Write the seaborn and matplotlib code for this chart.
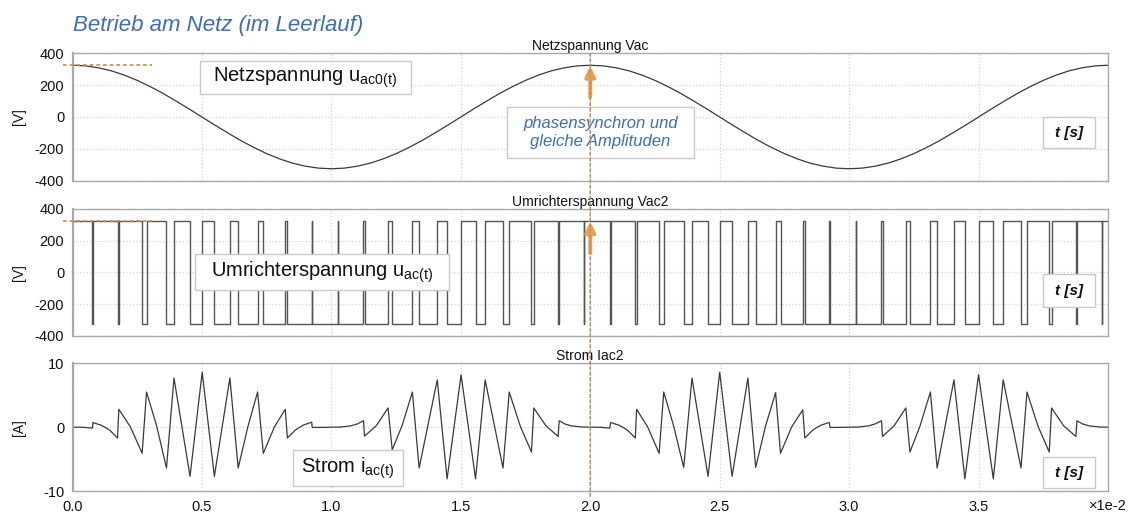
import numpy as np
import pandas as pd
import matplotlib
matplotlib.use("Agg")
import matplotlib.pyplot as plt
import seaborn as sns
from matplotlib.patches import Rectangle, ConnectionPatch

# ---- data (time axis in units of 1e-2 s) ----
grid_t = np.linspace(0.0, 4.0, 81)
grid_u = [325, 321, 309, 290, 263, 230, 191, 148, 100, 51,
          0, -51, -100, -148, -191, -230, -263, -290, -309, -321,
          -325, -321, -309, -290, -263, -230, -191, -148, -100, -51,
          0, 51, 100, 148, 191, 230, 263, 290, 309, 321,
          325, 321, 309, 290, 263, 230, 191, 148, 100, 51,
          0, -51, -100, -148, -191, -230, -263, -290, -309, -321,
          -325, -321, -309, -290, -263, -230, -191, -148, -100, -51,
          0, 51, 100, 148, 191, 230, 263, 290, 309, 321,
          325]

dc_link = 325
# switching instants of the converter bridge (starts in the upper state)
sw_t = [0.077, 0.079, 0.174, 0.179, 0.269, 0.286, 0.363, 0.392, 0.454, 0.501,
        0.548, 0.608, 0.640, 0.715, 0.737, 0.822, 0.830, 0.924, 0.926, 1.025,
        1.027, 1.124, 1.128, 1.219, 1.235, 1.313, 1.339, 1.409, 1.447, 1.501,
        1.557, 1.594, 1.663, 1.687, 1.773, 1.782, 1.876, 1.880, 1.975, 1.977,
        2.075, 2.079, 2.174, 2.179, 2.266, 2.284, 2.361, 2.393, 2.455, 2.500,
        2.548, 2.609, 2.639, 2.716, 2.735, 2.821, 2.829, 2.923, 2.927, 3.025,
        3.027, 3.125, 3.129, 3.219, 3.235, 3.314, 3.340, 3.405, 3.447, 3.500,
        3.557, 3.595, 3.664, 3.687, 3.773, 3.782, 3.876, 3.880, 3.975, 3.977]

cur_t = [0.000, 0.040, 0.077, 0.079, 0.111, 0.127, 0.145, 0.174, 0.179, 0.224,
         0.269, 0.286, 0.325, 0.363, 0.392, 0.454, 0.501, 0.548, 0.608, 0.640,
         0.678, 0.715, 0.737, 0.780, 0.822, 0.830, 0.860, 0.877, 0.892, 0.924,
         0.926, 0.975, 1.025, 1.027, 1.075, 1.100, 1.124, 1.128, 1.174, 1.219,
         1.235, 1.274, 1.313, 1.339, 1.409, 1.447, 1.501, 1.557, 1.594, 1.663,
         1.687, 1.730, 1.773, 1.782, 1.829, 1.876, 1.880, 1.902, 1.927, 1.975,
         1.977, 2.040, 2.075, 2.079, 2.111, 2.127, 2.145, 2.174, 2.179, 2.222,
         2.266, 2.284, 2.322, 2.361, 2.393, 2.455, 2.500, 2.548, 2.609, 2.639,
         2.677, 2.716, 2.735, 2.778, 2.821, 2.829, 2.859, 2.876, 2.891, 2.923,
         2.927, 2.975, 3.025, 3.027, 3.075, 3.100, 3.125, 3.129, 3.174, 3.219,
         3.235, 3.274, 3.314, 3.340, 3.405, 3.447, 3.500, 3.557, 3.595, 3.664,
         3.687, 3.730, 3.773, 3.782, 3.829, 3.876, 3.880, 3.902, 3.927, 3.975,
         3.977, 4.000]
cur_a = [0.00, -0.02, -0.15, 0.73, 0.30, -0.05, -0.52, -1.70, 2.80, 0.02,
         -4.10, 5.50, 0.20, -6.40, 7.70, -7.70, 8.60, -7.70, 7.70, -6.40,
         0.15, 5.50, -4.10, 0.04, 2.80, -1.70, -0.48, -0.03, 0.33, 0.78,
         -0.05, -0.03, 0.02, -0.02, 0.20, 0.50, 1.00, -1.40, 0.25, 3.00,
         -3.55, 0.34, 5.50, -6.40, 7.40, -8.10, 8.20, -8.10, 7.40, -6.40,
         5.50, 0.12, -3.90, 3.00, 0.20, -1.46, 1.00, 0.50, 0.20, 0.00,
         0.02, -0.02, -0.15, 0.73, 0.30, -0.05, -0.52, -1.70, 2.80, 0.02,
         -4.10, 5.50, 0.20, -6.30, 7.70, -7.70, 8.60, -7.70, 7.70, -6.30,
         0.15, 5.40, -4.10, 0.04, 2.70, -1.70, -0.48, -0.03, 0.30, 0.73,
         -0.05, -0.03, 0.02, -0.02, 0.20, 0.50, 1.00, -1.46, 0.22, 3.00,
         -3.90, 0.20, 5.50, -6.40, 7.40, -8.10, 8.20, -8.10, 7.40, -6.40,
         5.50, 0.12, -3.90, 3.00, 0.20, -1.46, 1.00, 0.50, 0.20, 0.00,
         0.02, 0.00]

sync_t = 2.0
x_ticks = [0.0, 0.5, 1.0, 1.5, 2.0, 2.5, 3.0, 3.5]
u_ticks = [-400, -200, 0, 200, 400]
i_ticks = [-10, 0, 10]

# ---- style ----
sns.set_theme(style="white")
plt.rcParams["font.family"] = ["Liberation Sans", "DejaVu Sans"]
plt.rcParams["axes.unicode_minus"] = False
plt.rcParams["mathtext.fontset"] = "custom"
plt.rcParams["mathtext.rm"] = "Liberation Sans"

W, H = 1129, 514
fig = plt.figure(figsize=(W / 100, H / 100), dpi=100)


def px_rect(x0, x1, y0, y1):
    return [x0 / W, 1 - y1 / H, (x1 - x0) / W, (y1 - y0) / H]


ax1 = fig.add_axes(px_rect(72.5, 1108, 53.3, 180.7))
ax2 = fig.add_axes(px_rect(72.5, 1108, 209, 335.7))
ax3 = fig.add_axes(px_rect(72.5, 1108, 363.3, 491))

spine_c = "#a9a9a9"
grid_c = "#d2d2d2"
line_c = "#3a3a3a"

# grid voltage
sns.lineplot(x=grid_t, y=grid_u, ax=ax1, color=line_c, lw=0.9,
             estimator=None, sort=False)

# converter voltage as a two-level step signal
step_t = np.concatenate([[0.0], sw_t, [4.0]])
step_u = dc_link * (-1.0) ** np.arange(len(sw_t) + 1)
step_u = np.append(step_u, step_u[-1])
sns.lineplot(x=step_t, y=step_u, ax=ax2, color="#555555", lw=1.0,
             drawstyle="steps-post", estimator=None, sort=False)

# line current
sns.lineplot(x=cur_t, y=cur_a, ax=ax3, color=line_c, lw=0.9,
             estimator=None, sort=False)

titles = ["Netzspannung Vac", "Umrichterspannung Vac2", "Strom Iac2"]
ylabels = ["[V]", "[V]", "[A]"]
for ax, ttl, yl in zip([ax1, ax2, ax3], titles, ylabels):
    ax.set_xlim(0, 4)
    ax.set_xticks(x_ticks)
    ax.set_axisbelow(True)
    ax.grid(True, ls=":", color=grid_c, lw=0.9)
    ax.set_title(ttl, fontsize=10, pad=2.5, color="#111111")
    ax.set_ylabel(yl, fontsize=10, color="#111111")
    ax.yaxis.set_label_coords(-0.045, 0.5)
    ax.set_xlabel("")
    for s in ["top", "right", "bottom"]:
        ax.spines[s].set_color(spine_c)
        ax.spines[s].set_linewidth(1.0)
    ax.spines["left"].set_color(spine_c)
    ax.spines["left"].set_linewidth(1.6)
    ax.tick_params(axis="y", length=4, width=1, color=spine_c,
                   labelsize=10.5, pad=2, labelcolor="#111111")

for ax in (ax1, ax2):
    ax.set_ylim(-400, 400)
    ax.set_yticks(u_ticks)
    ax.tick_params(axis="x", length=0, labelbottom=False)

ax3.set_ylim(-10, 10)
ax3.set_yticks(i_ticks)
ax3.tick_params(axis="x", length=0, labelsize=10.5, pad=6.5,
                labelcolor="#111111")
ax3.set_xticklabels([f"{v:.1f}" for v in x_ticks])
fig.text(1127 / W, 1 - 506 / H, "\u00d71e-2", ha="right", va="center",
         fontsize=10.5, color="#111111")

# amplitude markers
amp_c = "#c48a4f"
for ax in (ax1, ax2):
    ax.plot([-0.037, 0.307], [dc_link, dc_link], ls=(0, (2.2, 1.8)),
            color=amp_c, lw=1.2, clip_on=False, zorder=4)

# synchronisation marker across all panels
con = ConnectionPatch(xyA=(sync_t, 400), coordsA=ax1.transData,
                      xyB=(sync_t, -10.9), coordsB=ax3.transData,
                      ls=(0, (2.0, 1.6)), color="#bf8e62", lw=1.1, zorder=20)
fig.add_artist(con)

arrow_c = "#eb9f4e"
for ax, y0 in ((ax1, 127), (ax2, 122)):
    ax.annotate("", xy=(sync_t, 320), xytext=(sync_t, y0),
                arrowprops=dict(arrowstyle="-|>", color=arrow_c, lw=2.8,
                                mutation_scale=15, shrinkA=0, shrinkB=0),
                zorder=6)

# title
fig.text(73 / W, 1 - 30.5 / H, "Betrieb am Netz (im Leerlauf)", ha="left",
         va="baseline", fontsize=16, style="italic", color="#3d6db3")


def boxed(x0, x1, y0, y1, text, **kw):
    fig.add_artist(Rectangle((x0 / W, 1 - y1 / H), (x1 - x0) / W, (y1 - y0) / H,
                             transform=fig.transFigure, fc="white",
                             ec="#cacaca", lw=1.0, zorder=10))
    fig.text((x0 + x1) / 2 / W, 1 - (y0 + y1) / 2 / H, text, ha="center",
             va="center", zorder=11, **kw)


boxed(200, 411, 60.7, 94.3, "Netzspannung u$_{\\mathregular{ac0(t)}}$",
      fontsize=14.5, color="#111111")
boxed(195, 449, 254, 290, "Umrichterspannung u$_{\\mathregular{ac(t)}}$",
      fontsize=14.5, color="#111111")
boxed(292.7, 402.7, 450, 485.7, "Strom i$_{\\mathregular{ac(t)}}$",
      fontsize=14.5, color="#111111")
boxed(507, 694, 107, 158, "phasensynchron und\ngleiche Amplituden",
      fontsize=12, style="italic", color="#3d6db3", linespacing=1.25)
for y0, y1 in ((117, 148), (274, 307), (457, 488)):
    boxed(1042.7, 1095, y0, y1, "t [s]", fontsize=11, style="italic",
          fontweight="bold", color="#111111")

fig.savefig("out.png", dpi=100, facecolor="white")
